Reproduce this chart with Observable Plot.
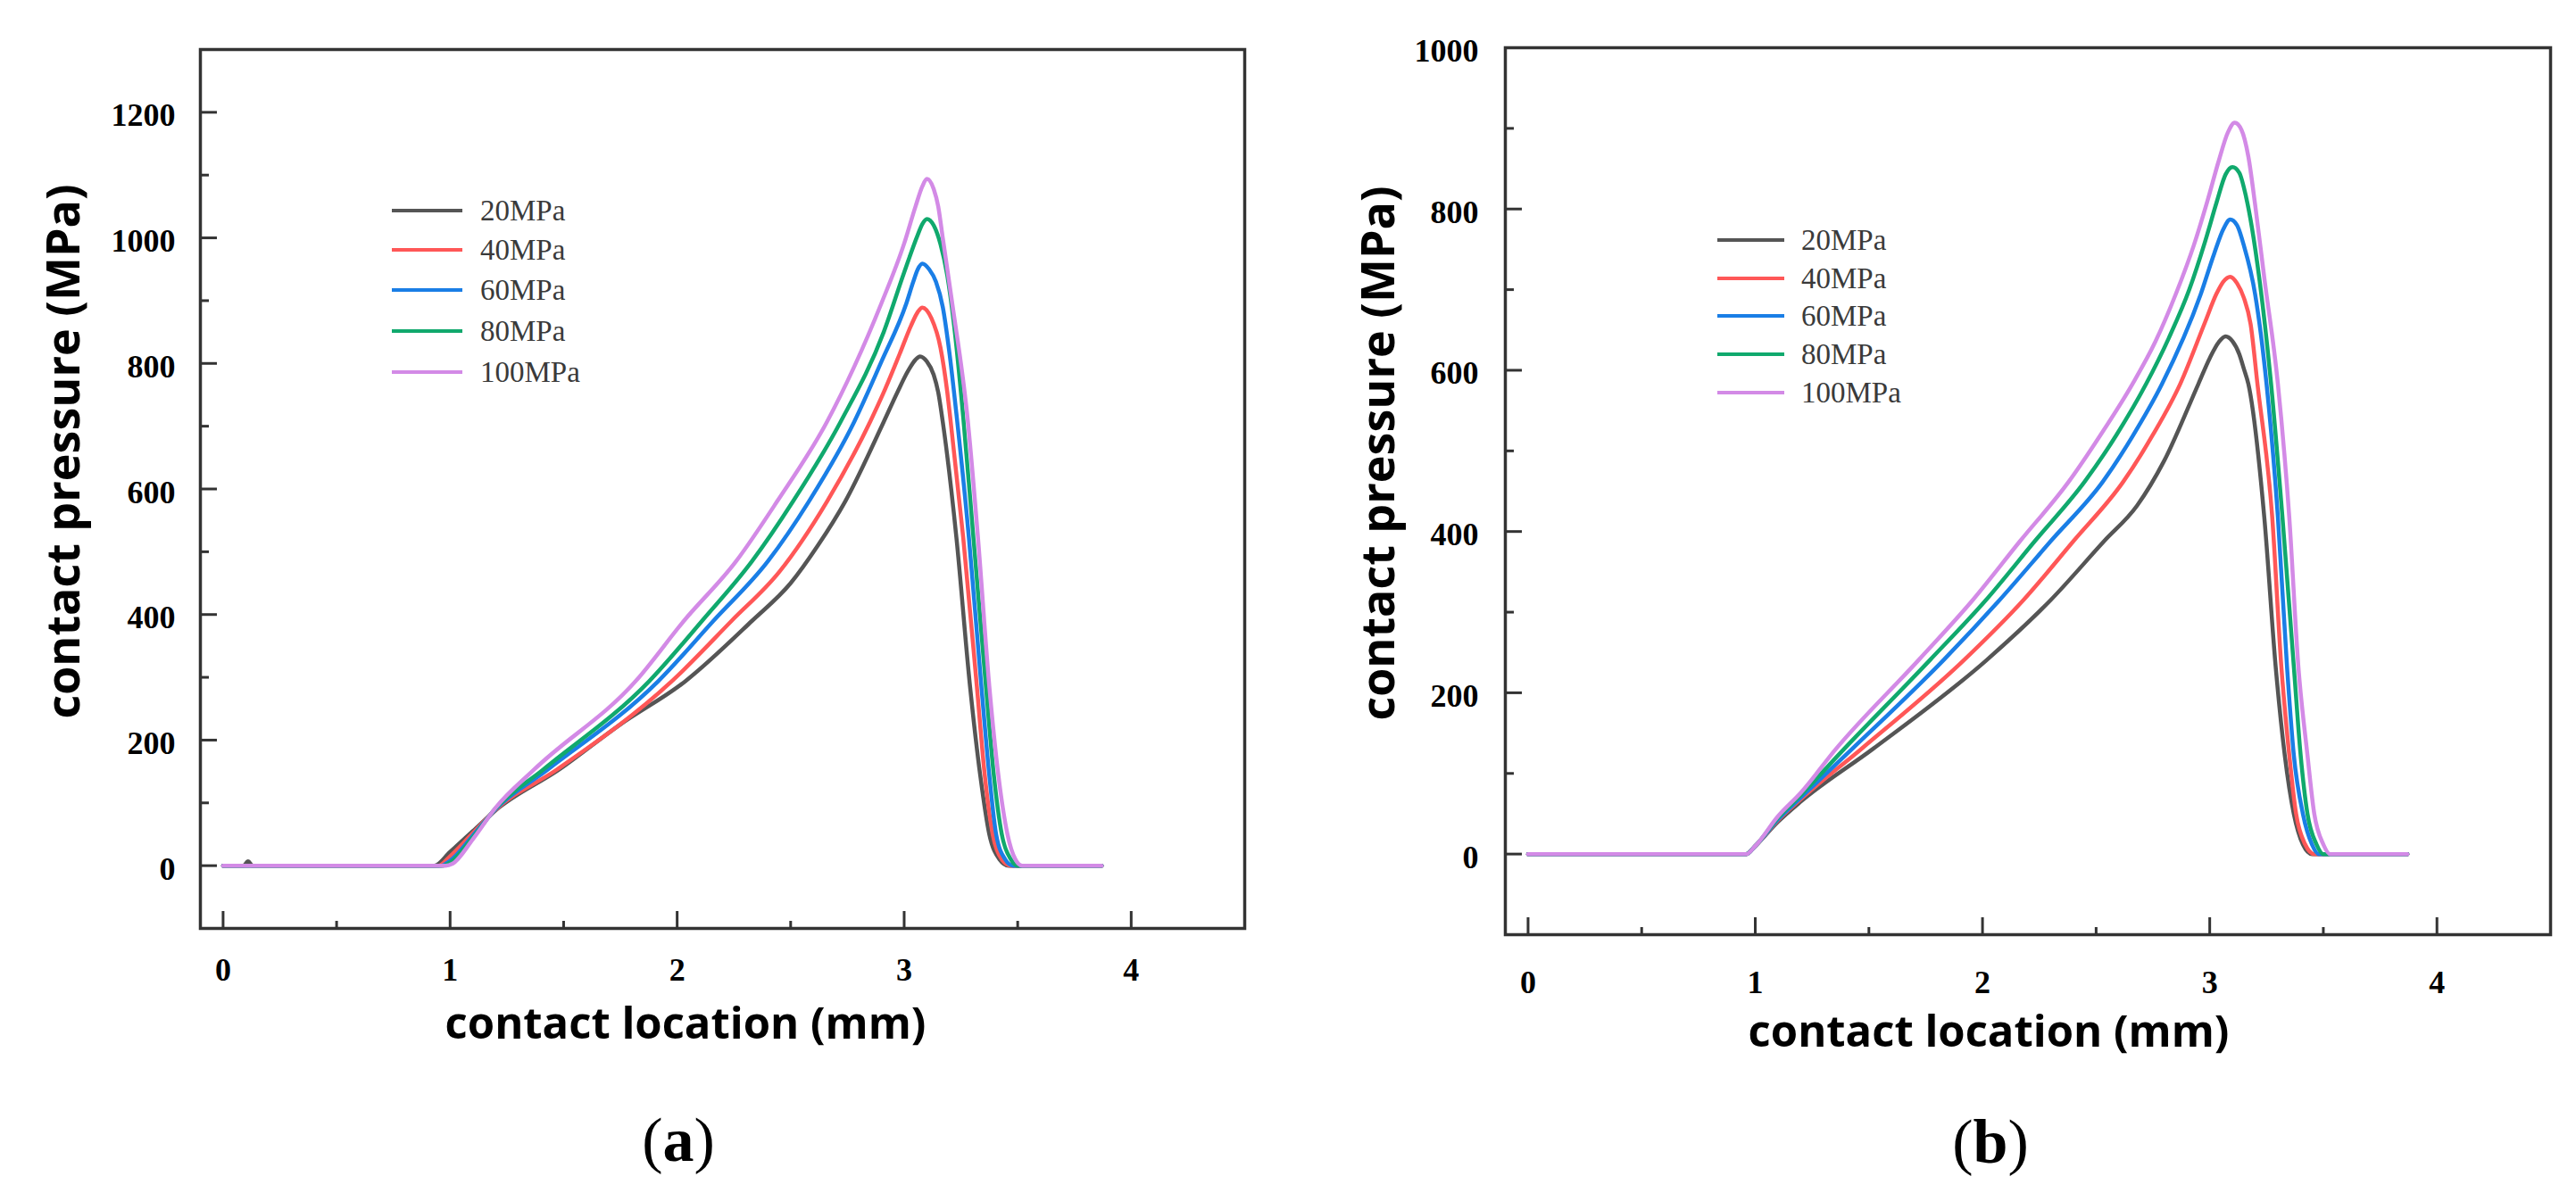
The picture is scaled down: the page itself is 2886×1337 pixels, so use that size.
<!DOCTYPE html>
<html>
<head>
<meta charset="utf-8">
<script src="https://cdn.jsdelivr.net/npm/d3@7"></script>
<script src="https://cdn.jsdelivr.net/npm/@observablehq/plot@0.6"></script>
<style>
  html, body { margin: 0; padding: 0; background: #fff; }
  #page { position: relative; width: 2886px; height: 1337px; background: #fff; overflow: hidden; }
  .panel { position: absolute; top: 0; }
  .ytitle, .xtitle { position: absolute; font-family: "Open Sans", "Noto Sans", sans-serif; font-weight: 700; color: #000; white-space: nowrap; line-height: 1; }
  .ytitle { font-size: 52px; transform: translate(-50%, -50%) rotate(-90deg); }
  .xtitle { font-size: 49px; transform: translate(-50%, -50%); }
  .cap { position: absolute; transform: translate(-50%, -50%); font-family: "Liberation Serif", serif; font-size: 70px; color: #000; line-height: 1; white-space: nowrap; }
  .cap b { font-weight: 700; }
  .leg-line { position: absolute; height: 4px; }
  .leg-text { position: absolute; transform: translateY(-50%); font-family: "Liberation Serif", serif; font-size: 33px; color: #3a3a3a; line-height: 1; white-space: nowrap; }
</style>
</head>
<body>
<div id="page"></div>
<script>
// ---------- data ----------
const series = ["20MPa", "40MPa", "60MPa", "80MPa", "100MPa"];
const colors = ["#555555", "#ff5757", "#1a7ee6", "#10a96d", "#d38ae6"];

const xTicks = [0, 1, 2, 3, 4];
const xMinor = [0.5, 1.5, 2.5, 3.5];
const yTicksA = [0, 200, 400, 600, 800, 1000, 1200];
const yMinorA = [100, 300, 500, 700, 900, 1100];
const yTicksB = [0, 200, 400, 600, 800, 1000];
const yMinorB = [100, 300, 500, 700, 900];

// panel (a): [contact location (mm), contact pressure (MPa)]
const a20 = [[0,0],[0.09,0],[0.11,7],[0.13,0],[0.93,0],[1.0,22],[1.1,55],[1.2,88],[1.48,153],[1.75,225],[2.03,292],[2.33,390],[2.50,450],[2.62,510],[2.74,580],[2.91,707],[2.97,754],[3.02,790],[3.05,806],[3.07,811],[3.10,803],[3.13,782],[3.15,754],[3.17,707],[3.23,523],[3.29,286],[3.335,144],[3.375,50],[3.42,10],[3.46,0],[3.87,0]];
const a40 = [[0,0],[0.95,0],[1.0,15],[1.1,52],[1.2,89],[1.47,153],[1.98,295],[2.24,390],[2.45,468],[2.66,580],[2.85,707],[2.91,754],[2.98,815],[3.03,860],[3.06,882],[3.08,889],[3.12,872],[3.16,825],[3.19,754],[3.205,707],[3.26,523],[3.32,286],[3.355,144],[3.39,50],[3.43,10],[3.47,0],[3.87,0]];
const a60 = [[0,0],[0.96,0],[1.0,8],[1.1,48],[1.2,90],[1.43,153],[1.92,295],[2.16,390],[2.40,485],[2.58,580],[2.78,707],[2.90,803],[3.01,896],[3.04,930],[3.06,950],[3.08,959],[3.11,950],[3.14,930],[3.17,890],[3.20,815],[3.23,720],[3.285,523],[3.34,286],[3.375,144],[3.405,50],[3.445,10],[3.48,0],[3.87,0]];
const a80 = [[0,0],[0.97,0],[1.0,5],[1.1,45],[1.2,91],[1.41,153],[1.88,295],[2.11,390],[2.33,485],[2.51,580],[2.72,707],[2.91,850],[3.00,945],[3.06,1005],[3.08,1022],[3.10,1030],[3.13,1020],[3.16,990],[3.19,940],[3.22,860],[3.26,715],[3.305,523],[3.36,286],[3.395,144],[3.43,50],[3.47,10],[3.50,0],[3.87,0]];
const a100 = [[0,0],[0.98,0],[1.01,3],[1.1,42],[1.2,92],[1.37,153],[1.82,295],[2.03,390],[2.26,485],[2.44,580],[2.66,707],[2.90,896],[3.00,991],[3.05,1050],[3.08,1082],[3.10,1094],[3.13,1078],[3.15,1050],[3.17,1000],[3.21,900],[3.28,710],[3.325,523],[3.375,286],[3.415,144],[3.455,50],[3.49,10],[3.52,0],[3.87,0]];

// panel (b)
const b20 = [[0,0],[0.96,0],[1.0,10],[1.1,40],[1.2,65],[1.516,130],[2.02,241],[2.30,315],[2.535,388],[2.68,432],[2.80,488],[2.95,583],[3.0,615],[3.04,635],[3.07,642],[3.10,636],[3.13,620],[3.15,602],[3.17,583],[3.24,418],[3.29,233],[3.33,123],[3.37,50],[3.41,12],[3.45,0],[3.87,0]];
const b40 = [[0,0],[0.96,0],[1.0,10],[1.1,42],[1.2,68],[1.465,130],[1.92,241],[2.18,315],[2.40,388],[2.62,462],[2.75,520],[2.87,583],[2.98,660],[3.03,695],[3.06,710],[3.09,716],[3.12,708],[3.15,690],[3.18,657],[3.21,583],[3.275,418],[3.315,233],[3.35,123],[3.38,50],[3.42,12],[3.46,0],[3.87,0]];
const b60 = [[0,0],[0.96,0],[1.0,10],[1.1,43],[1.2,70],[1.425,130],[1.83,241],[2.075,315],[2.30,388],[2.53,462],[2.66,518],[2.79,583],[2.96,694],[3.02,745],[3.06,775],[3.09,787],[3.12,780],[3.15,755],[3.20,694],[3.25,583],[3.30,418],[3.34,233],[3.37,123],[3.41,50],[3.45,12],[3.48,0],[3.87,0]];
const b80 = [[0,0],[0.96,0],[1.0,10],[1.1,45],[1.2,73],[1.39,130],[1.77,241],[2.015,315],[2.23,388],[2.45,462],[2.59,520],[2.72,583],[2.82,640],[2.91,700],[2.98,760],[3.03,808],[3.07,843],[3.10,852],[3.13,845],[3.16,815],[3.22,710],[3.27,583],[3.32,418],[3.37,233],[3.40,123],[3.43,50],[3.47,12],[3.50,0],[3.87,0]];
const b100 = [[0,0],[0.96,0],[1.0,10],[1.1,47],[1.2,76],[1.354,130],[1.72,241],[1.957,315],[2.165,388],[2.38,462],[2.52,520],[2.66,583],[2.76,635],[2.85,694],[2.93,755],[2.99,810],[3.04,860],[3.08,895],[3.11,907],[3.14,898],[3.17,865],[3.20,805],[3.24,715],[3.30,583],[3.35,418],[3.39,233],[3.43,123],[3.46,50],[3.50,12],[3.53,0],[3.87,0]];

// ---------- build ----------
function toRows(list) {
  return list.flatMap((pairs, i) => pairs.map(([x, y]) => ({x, y, s: series[i]})));
}
const rowsA = toRows([a20, a40, a60, a80, a100]);
const rowsB = toRows([b20, b40, b60, b80, b100]);

const axisColor = "#333";
const fmt = d => String(d);
const tickFont = {fontSize: 36, fontWeight: "bold", fontFamily: "Liberation Serif, serif", fill: "#000", tickFormat: fmt};

function panel({rows, yDomain, yTicks, yMinor, margins, xPad, yPad}) {
  return Plot.plot({
    width: 1443, height: 1337,
    marginLeft: margins[0], marginRight: margins[1], marginTop: margins[2], marginBottom: margins[3],
    style: {background: "transparent", overflow: "visible"},
    x: {domain: [-0.1, 4.5], label: null},
    y: {domain: yDomain, label: null},
    color: {domain: series, range: colors},
    marks: [
      Plot.axisX(xTicks, {anchor: "bottom", tickSize: -19, strokeWidth: 3, stroke: axisColor, fill: "none", label: null}),
      Plot.axisX(xMinor, {anchor: "bottom", tickSize: -8, strokeWidth: 3, stroke: axisColor, fill: "none", label: null}),
      Plot.axisX(xTicks, {anchor: "bottom", tickSize: 0, tickPadding: xPad, label: null, ...tickFont}),
      Plot.axisY(yTicks, {anchor: "left", tickSize: -19, strokeWidth: 3, stroke: axisColor, fill: "none", label: null}),
      Plot.axisY(yMinor, {anchor: "left", tickSize: -10, strokeWidth: 3, stroke: axisColor, fill: "none", label: null}),
      Plot.axisY(yTicks, {anchor: "left", tickSize: 0, tickPadding: yPad, dy: 4, label: null, ...tickFont}),
      Plot.line(rows, {x: "x", y: "y", z: "s", stroke: "s", strokeWidth: 4.5, curve: "monotone-x"}),
      Plot.frame({stroke: axisColor, strokeWidth: 3.5})
    ]
  });
}

const page = document.getElementById("page");

const plotA = panel({rows: rowsA, yDomain: [-100, 1300], yTicks: yTicksA, yMinor: yMinorA,
  margins: [224, 49, 55, 297], xPad: 33, yPad: 28});
plotA.classList.add("panel");
plotA.style.left = "0px";
page.appendChild(plotA);

const plotB = panel({rows: rowsB, yDomain: [-100, 1000], yTicks: yTicksB, yMinor: yMinorB,
  margins: [243, 29, 53, 290], xPad: 40, yPad: 30});
plotB.classList.add("panel");
plotB.style.left = "1443px";
page.appendChild(plotB);

// titles and captions
function addDiv(cls, html, left, top) {
  const d = document.createElement("div");
  d.className = cls;
  d.innerHTML = html;
  d.style.left = left + "px";
  d.style.top = top + "px";
  page.appendChild(d);
  return d;
}
addDiv("ytitle", "contact pressure (MPa)", 69, 506);
addDiv("xtitle", "contact location (mm)", 768, 1145);
addDiv("cap", "(<b>a</b>)", 760, 1278);
addDiv("ytitle", "contact pressure (MPa)", 1542, 508);
addDiv("xtitle", "contact location (mm)", 2228, 1154);
addDiv("cap", "(<b>b</b>)", 2230, 1280);

// legends
function legend(x0, x1, tx, rowsY) {
  series.forEach((s, i) => {
    const l = document.createElement("div");
    l.className = "leg-line";
    l.style.left = x0 + "px";
    l.style.width = (x1 - x0) + "px";
    l.style.top = (rowsY[i] - 2) + "px";
    l.style.background = colors[i];
    page.appendChild(l);
    addDiv("leg-text", s, tx, rowsY[i]);
  });
}
legend(439, 518, 538, [236, 280, 325, 371, 417]);
legend(1924, 1999, 2018, [269, 312, 354, 397, 440]);
</script>
</body>
</html>
